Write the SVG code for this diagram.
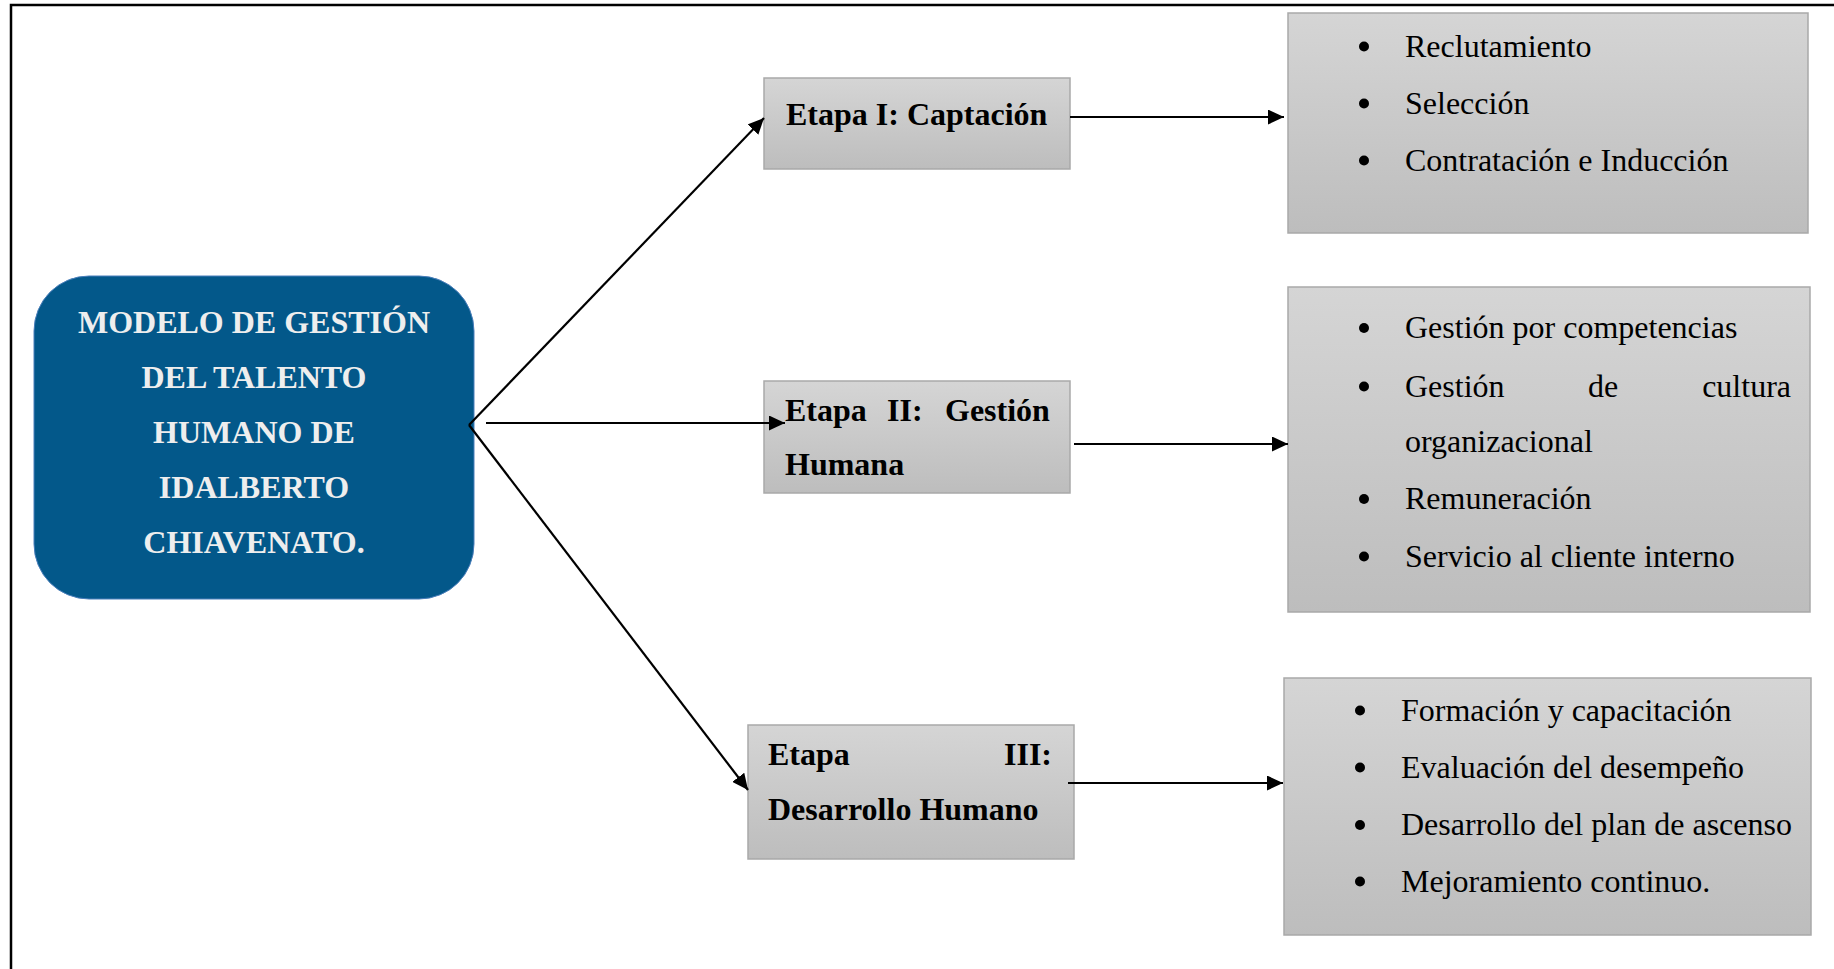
<svg xmlns="http://www.w3.org/2000/svg" width="1834" height="969" viewBox="0 0 1834 969">
  <defs>
    <linearGradient id="greyFill" x1="0" y1="0" x2="0" y2="1">
      <stop offset="0" stop-color="#d5d5d5"/>
      <stop offset="1" stop-color="#bdbdbd"/>
    </linearGradient>
    <marker id="arrowHead" markerUnits="userSpaceOnUse" markerWidth="16" markerHeight="15" refX="16" refY="7.5" orient="auto">
      <path d="M0,0 L16,7.5 L0,15 z" fill="#000"/>
    </marker>
    <style>
      .frame { fill: none; stroke: #000; stroke-width: 2.5; }
      .box { fill: url(#greyFill); stroke: #a9a9a9; stroke-width: 1.5; }
      .core { fill: #03588a; stroke: #4a7ebb; stroke-width: 1; }
      .coreText { font-family: "Liberation Serif", "Times New Roman", serif; font-weight: bold; font-size: 32px; fill: #eeeeee; text-anchor: middle; }
      .stage { font-family: "Liberation Serif", "Times New Roman", serif; font-weight: bold; font-size: 32px; fill: #000; }
      .item { font-family: "Liberation Serif", "Times New Roman", serif; font-size: 32px; fill: #000; }
      .dot { fill: #000; }
      .link { fill: none; stroke: #000; stroke-width: 2.2; marker-end: url(#arrowHead); }
    </style>
  </defs>

  <rect x="0" y="0" width="1834" height="969" fill="#fff"/>
  <path class="frame" d="M11,969 L11,5 L1834,5"/>

  <!-- central model -->
  <g id="modelo">
    <rect class="core" x="34" y="276" width="440" height="323" rx="55" ry="55"/>
    <text class="coreText" x="254" y="333">MODELO DE GESTIÓN</text>
    <text class="coreText" x="254" y="388">DEL TALENTO</text>
    <text class="coreText" x="254" y="443">HUMANO DE</text>
    <text class="coreText" x="254" y="498">IDALBERTO</text>
    <text class="coreText" x="254" y="553">CHIAVENATO.</text>
  </g>

  <!-- stages -->
  <g id="etapa1">
    <rect class="box" x="764" y="78" width="306" height="91"/>
    <text class="stage" x="786" y="125">Etapa I: Captación</text>
  </g>
  <g id="etapa2">
    <rect class="box" x="764" y="381" width="306" height="112"/>
    <text class="stage" y="421"><tspan x="785">Etapa</tspan><tspan x="887">II:</tspan><tspan x="945">Gestión</tspan></text>
    <text class="stage" x="785" y="475">Humana</text>
  </g>
  <g id="etapa3">
    <rect class="box" x="748" y="725" width="326" height="134"/>
    <text class="stage" x="768" y="765">Etapa</text>
    <text class="stage" x="1052" y="765" text-anchor="end">III:</text>
    <text class="stage" x="768" y="820">Desarrollo Humano</text>
  </g>

  <!-- item lists -->
  <g id="lista1">
    <rect class="box" x="1288" y="13" width="520" height="220"/>
    <circle class="dot" cx="1364" cy="46.5" r="5"/>
    <text class="item" x="1405" y="56.5">Reclutamiento</text>
    <circle class="dot" cx="1364" cy="103.5" r="5"/>
    <text class="item" x="1405" y="113.5">Selección</text>
    <circle class="dot" cx="1364" cy="160.5" r="5"/>
    <text class="item" x="1405" y="170.5">Contratación e Inducción</text>
  </g>
  <g id="lista2">
    <rect class="box" x="1288" y="287" width="522" height="325"/>
    <circle class="dot" cx="1364" cy="328" r="5"/>
    <text class="item" x="1405" y="338">Gestión por competencias</text>
    <circle class="dot" cx="1364" cy="386.5" r="5"/>
    <text class="item" y="396.5"><tspan x="1405">Gestión</tspan><tspan x="1588">de</tspan></text>
    <text class="item" x="1791" y="396.5" text-anchor="end">cultura</text>
    <text class="item" x="1405" y="451.5">organizacional</text>
    <circle class="dot" cx="1364" cy="499" r="5"/>
    <text class="item" x="1405" y="509">Remuneración</text>
    <circle class="dot" cx="1364" cy="556.5" r="5"/>
    <text class="item" x="1405" y="566.5">Servicio al cliente interno</text>
  </g>
  <g id="lista3">
    <rect class="box" x="1284" y="678" width="527" height="257"/>
    <circle class="dot" cx="1360" cy="710.5" r="5"/>
    <text class="item" x="1401" y="720.5">Formación y capacitación</text>
    <circle class="dot" cx="1360" cy="767.5" r="5"/>
    <text class="item" x="1401" y="777.5">Evaluación del desempeño</text>
    <circle class="dot" cx="1360" cy="825" r="5"/>
    <text class="item" x="1401" y="835">Desarrollo del plan de ascenso</text>
    <circle class="dot" cx="1360" cy="881.5" r="5"/>
    <text class="item" x="1401" y="891.5">Mejoramiento continuo.</text>
  </g>

  <!-- connectors -->
  <g id="conectores">
    <path class="link" d="M469,425 L764,118"/>
    <path class="link" d="M486,423 L785,423"/>
    <path class="link" d="M469,425 L748,790"/>
    <path class="link" d="M1070,117 L1284,117"/>
    <path class="link" d="M1074,444 L1288,444"/>
    <path class="link" d="M1068,783 L1283,783"/>
  </g>
</svg>
